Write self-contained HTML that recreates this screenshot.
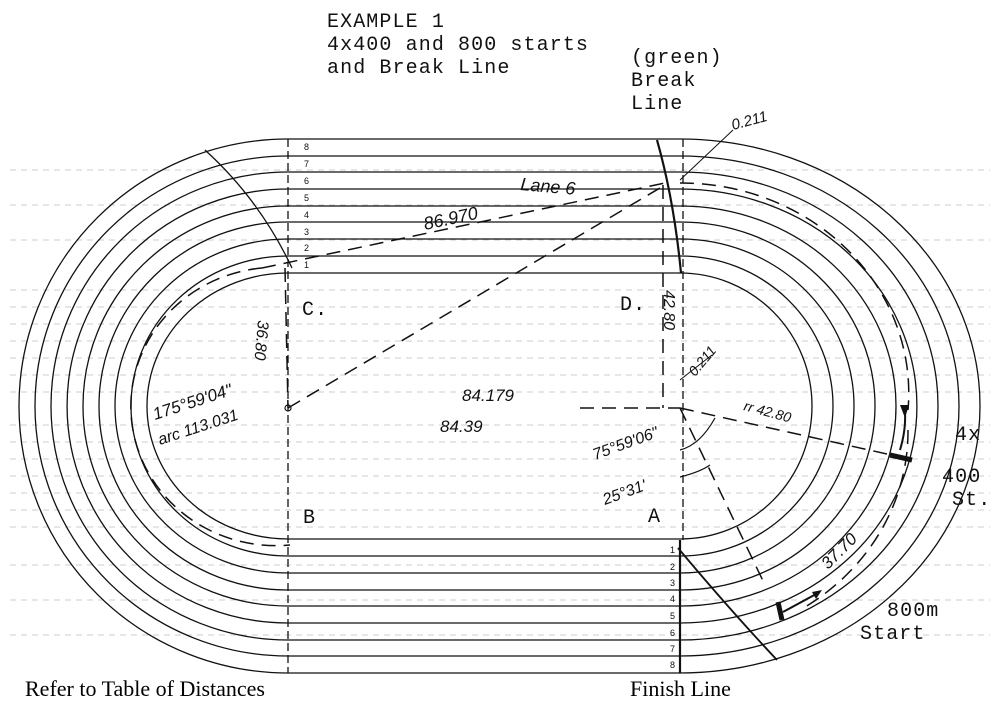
<!DOCTYPE html>
<html><head><meta charset="utf-8"><style>
body{margin:0;background:#fff}
svg{display:block}
.m{font-family:"Liberation Mono",monospace;font-size:20px;letter-spacing:1.1px;fill:#111}
.h{font-family:"Liberation Sans",sans-serif;font-style:italic;fill:#111}
.s{font-family:"Liberation Serif",serif;font-size:22px;fill:#000}
</style></head><body>
<svg width="1000" height="716" viewBox="0 0 1000 716" xmlns="http://www.w3.org/2000/svg">
<rect width="1000" height="716" fill="#fff"/>
<g stroke="#ccc" stroke-width="1" stroke-dasharray="6 5">
<line x1="10" y1="290" x2="990" y2="290"/><line x1="10" y1="307" x2="990" y2="307"/>
<line x1="10" y1="324" x2="990" y2="324"/><line x1="10" y1="341" x2="990" y2="341"/>
<line x1="10" y1="358" x2="990" y2="358"/><line x1="10" y1="375" x2="990" y2="375"/>
<line x1="10" y1="392" x2="990" y2="392"/><line x1="10" y1="425" x2="990" y2="425"/>
<line x1="10" y1="442" x2="990" y2="442"/><line x1="10" y1="459" x2="990" y2="459"/>
<line x1="10" y1="476" x2="990" y2="476"/><line x1="10" y1="493" x2="990" y2="493"/>
<line x1="10" y1="510" x2="990" y2="510"/><line x1="10" y1="527" x2="990" y2="527"/>
<line x1="10" y1="240" x2="990" y2="240"/><line x1="10" y1="205" x2="990" y2="205"/>
<line x1="10" y1="170" x2="990" y2="170"/><line x1="10" y1="565" x2="990" y2="565"/>
<line x1="10" y1="600" x2="990" y2="600"/><line x1="10" y1="635" x2="990" y2="635"/>
</g>
<g fill="none" stroke="#111" stroke-width="1.3">
<path d="M288 273 L680 273 A132 133 0 0 1 680 539 L288 539 A141 133 0 0 1 288 273Z"/>
<path d="M288 256 L680 256 A153 150 0 0 1 680 556 L288 556 A157 150 0 0 1 288 256Z"/>
<path d="M288 239 L680 239 A174 167 0 0 1 680 573 L288 573 A173 167 0 0 1 288 239Z"/>
<path d="M288 222 L680 222 A195 184 0 0 1 680 590 L288 590 A189 184 0 0 1 288 222Z"/>
<path d="M288 206 L680 206 A216 200 0 0 1 680 606 L288 606 A205 200 0 0 1 288 206Z"/>
<path d="M288 189 L680 189 A237 217 0 0 1 680 623 L288 623 A221 217 0 0 1 288 189Z"/>
<path d="M288 172 L680 172 A258 234 0 0 1 680 640 L288 640 A237 234 0 0 1 288 172Z"/>
<path d="M288 156 L680 156 A279 250 0 0 1 680 656 L288 656 A253 250 0 0 1 288 156Z"/>
<path d="M288 139 L680 139 A300 267 0 0 1 680 673 L288 673 A269 267 0 0 1 288 139Z"/>
</g>
<g stroke="#111" fill="none">
<line x1="288" y1="139" x2="288" y2="673" stroke-width="1.3" stroke-dasharray="8 4"/>
<line x1="683" y1="139" x2="683" y2="540" stroke-width="1.3" stroke-dasharray="8 4"/>
<line x1="680" y1="540" x2="680" y2="673" stroke-width="2.2"/>
<path d="M657 140 Q674 200 681 273" stroke-width="2.2"/>
<path d="M205 150 Q260 200 292 268" stroke-width="1.3"/>
<path d="M678 548 Q730 610 777 660" stroke-width="1.8"/>
<g stroke-dasharray="14 8" stroke-width="1.5">
<line x1="288" y1="408" x2="665" y2="185"/>
<line x1="262" y1="268" x2="665" y2="183"/>
<path d="M262 268 A145 139 0 0 0 290 545"/>
<path d="M680 183 A228 210 0 0 1 908 410"/>
<path d="M908 430 A228 210 0 0 1 800 610"/>
<line x1="680" y1="408" x2="905" y2="458"/>
<line x1="680" y1="408" x2="765" y2="585"/>
<line x1="580" y1="408" x2="680" y2="408"/>
<line x1="663" y1="185" x2="663" y2="408"/>
<line x1="285" y1="268" x2="288" y2="408"/>
</g>
<line x1="890" y1="455" x2="912" y2="460" stroke-width="5"/>
<line x1="778" y1="602" x2="782" y2="620" stroke-width="5"/>
<path d="M783 612 L818 593" stroke-width="2"/>
<path d="M900 450 Q906 430 905 412" stroke-width="2"/>
<path d="M680 380 Q690 372 712 355" stroke-width="1"/>
<path d="M680 180 L733 130" stroke-width="1"/>
<path d="M680 450 Q700 445 715 418" stroke-width="1.2"/>
<path d="M680 477 Q700 472 710 465" stroke-width="1.2"/>
<circle cx="288" cy="408" r="3" stroke-width="1.2"/>
</g>
<polygon points="900,405 905,418 909,405" fill="#111"/>
<polygon points="822,590 812,592 816,599" fill="#111"/>
<text class="m" x="327" y="27">EXAMPLE 1</text>
<text class="m" x="327" y="50">4x400 and 800 starts</text>
<text class="m" x="327" y="73">and Break Line</text>
<text class="m" x="631" y="63">(green)</text>
<text class="m" x="631" y="86">Break</text>
<text class="m" x="631" y="109">Line</text>
<text class="m" x="955" y="440">4x</text>
<text class="m" x="942" y="482">400</text>
<text class="m" x="952" y="505">St.</text>
<text class="m" x="887" y="616">800m</text>
<text class="m" x="860" y="639">Start</text>
<text class="m" x="302" y="315">C.</text>
<text class="m" x="620" y="310">D.</text>
<text class="m" x="303" y="523">B</text>
<text class="m" x="648" y="522">A</text>
<text class="s" x="25" y="696">Refer to Table of Distances</text>
<text class="s" x="630" y="696">Finish Line</text>
<g font-size="9" font-family="Liberation Sans,sans-serif" fill="#111">
<text x="304" y="150">8</text><text x="304" y="167">7</text><text x="304" y="184">6</text><text x="304" y="201">5</text><text x="304" y="218">4</text><text x="304" y="235">3</text><text x="304" y="251">2</text><text x="304" y="268">1</text>
<text x="670" y="553">1</text><text x="670" y="570">2</text><text x="670" y="586">3</text><text x="670" y="602">4</text><text x="670" y="619">5</text><text x="670" y="636">6</text><text x="670" y="652">7</text><text x="670" y="668">8</text>
</g>
<text class="h" x="520" y="190" font-size="18" transform="rotate(5 520 190)">Lane 6</text>
<text class="h" x="425" y="230" font-size="18" transform="rotate(-12 425 230)">86.970</text>
<text class="h" x="733" y="130" font-size="15" transform="rotate(-15 733 130)">0.211</text>
<text class="h" x="462" y="401" font-size="17">84.179</text>
<text class="h" x="440" y="432" font-size="17">84.39</text>
<text class="h" x="155" y="420" font-size="17" transform="rotate(-18 155 420)">175°59'04"</text>
<text class="h" x="160" y="445" font-size="16" transform="rotate(-18 160 445)">arc 113.031</text>
<text class="h" x="258" y="320" font-size="16" transform="rotate(95 258 320)">36.80</text>
<text class="h" x="664" y="290" font-size="16" transform="rotate(90 664 290)">42.80</text>
<text class="h" x="695" y="377" font-size="14" transform="rotate(-50 695 377)">0.211</text>
<text class="h" x="743" y="410" font-size="14" transform="rotate(15 743 410)">rr 42.80</text>
<text class="h" x="595" y="460" font-size="16" transform="rotate(-20 595 460)">75°59'06"</text>
<text class="h" x="605" y="505" font-size="16" transform="rotate(-20 605 505)">25°31'</text>
<text class="h" x="828" y="570" font-size="17" transform="rotate(-45 828 570)">37.70</text>
</svg>
</body></html>
